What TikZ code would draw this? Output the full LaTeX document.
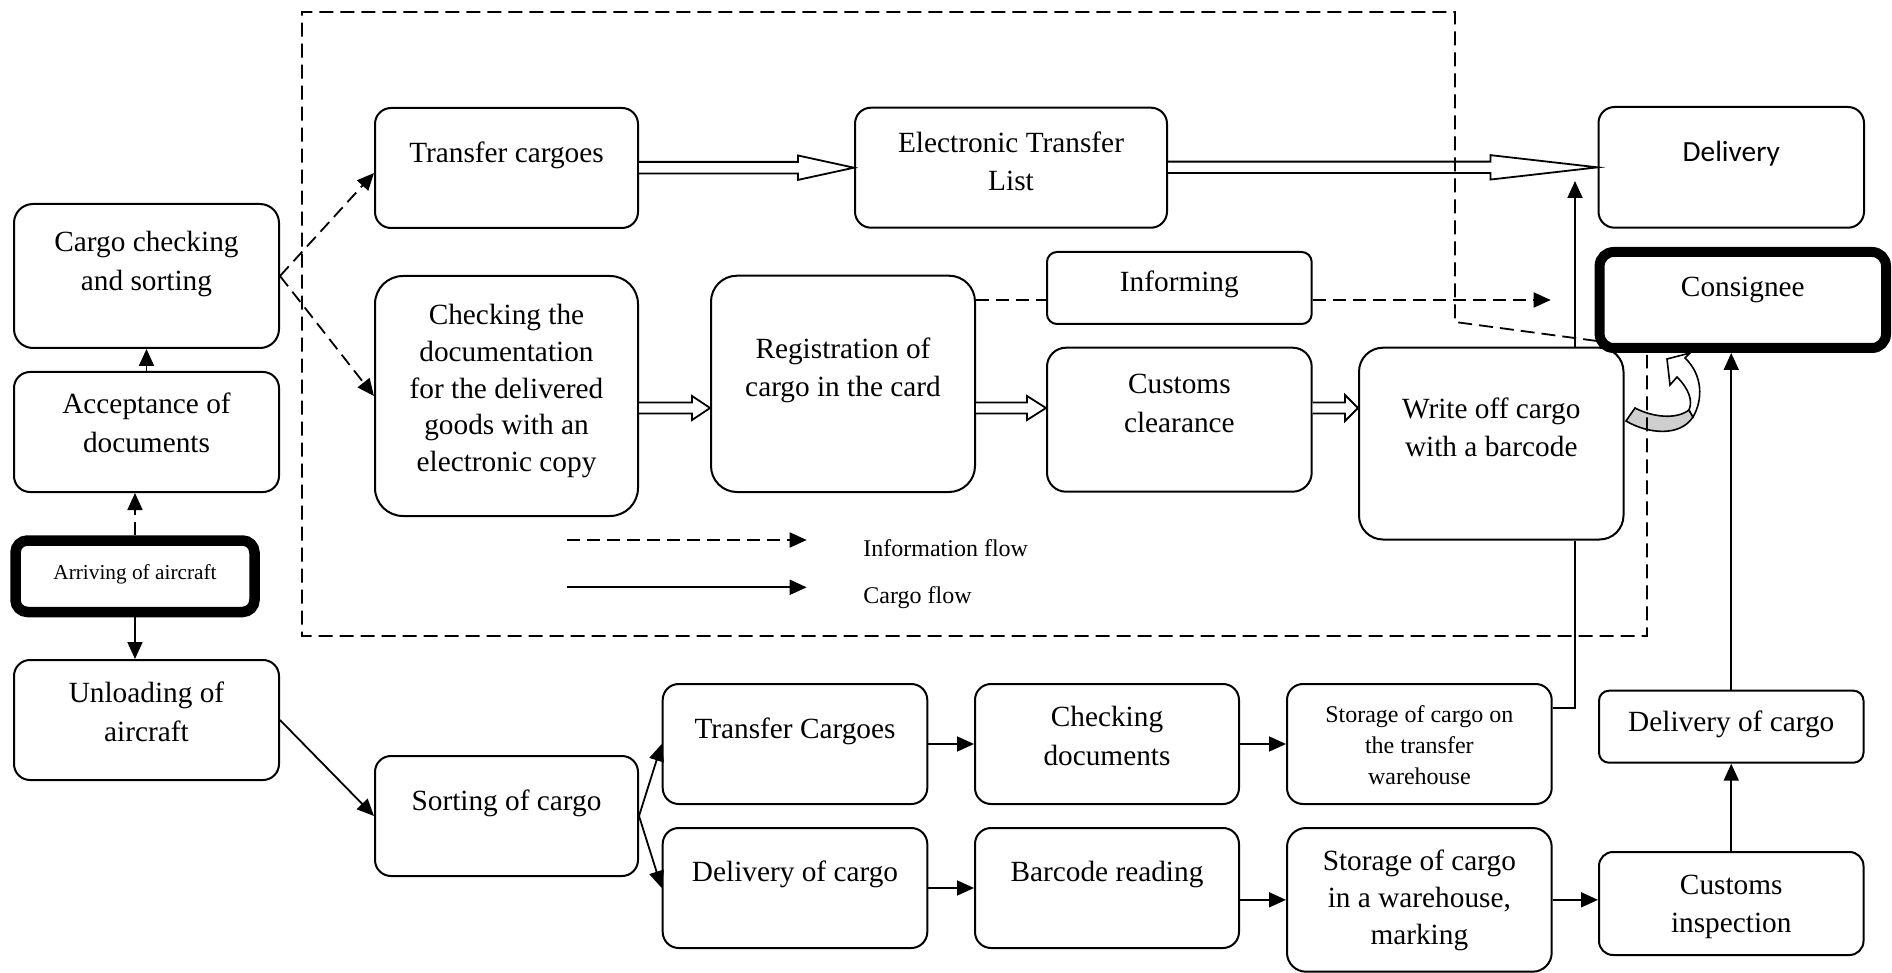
\documentclass[tikz,border=0pt]{standalone}
\usepackage{fontspec}
\setmainfont{Liberation Serif}
\newfontfamily\calfont{Carlito}
\usetikzlibrary{arrows.meta,calc}
% [font size]{width}{height}{first baseline}{line skip}{text}
\newcommand\bx[6][14.65pt]{\parbox[c][#3][t]{#2}{\centering\fontsize{#1}{#5}\selectfont\rule{0pt}{#4}#6}}
\newcommand\hollowarrow[5]{% from, to, head length, tail half, head half
  \draw[hollowst] let \p1=#1, \p2=#2 in
    (\x1,\y2+#4) -- (\x2-#3,\y2+#4) -- (\x2-#3,\y2+#5) -- (\x2,\y2)
    -- (\x2-#3,\y2-#5) -- (\x2-#3,\y2-#4) -- (\x1,\y2-#4);}
\begin{document}
\begin{tikzpicture}[x=0.5pt,y=-0.5pt,
  box/.style={draw, line width=1pt, inner sep=0pt, rounded corners=#1},
  box/.default=8pt,
  thickbox/.style={draw, line width=5.25pt, inner sep=0pt, rounded corners=#1},
  cline/.style={line width=0.9pt},
  cflow/.style={cline, -{Triangle[length=8.5pt,width=7.5pt]}},
  iflow/.style={cflow, dash pattern=on 6.5pt off 3.5pt},
  iline/.style={cline, dash pattern=on 6.5pt off 3.5pt},
  hollowst/.style={line width=0.9pt, fill=white},
  bound/.style={line width=0.9pt, dash pattern=on 7pt off 3.5pt},
  legend/.style={inner sep=0pt, anchor=base west, font=\fontsize{12pt}{14pt}\selectfont}]
\useasboundingbox (0,0) rectangle (1892,973);
\fill[white] (0,0) rectangle (1892,973);

% ---- left column
\node[box=9.5pt] (cc) at (146.5,276) {\bx{132.5pt}{72pt}{24pt}{19.25pt}{Cargo checking\\and sorting}};
\node[box] (acc) at (146.5,432) {\bx{132.5pt}{60pt}{21pt}{19.5pt}{Acceptance of\\documents}};
\node[thickbox=6pt] (arr) at (135,576.25) {\bx[10.65pt]{119.5pt}{35.75pt}{19.25pt}{13pt}{Arriving of aircraft}};
\node[box] (unl) at (146.5,720) {\bx{132.5pt}{60pt}{21pt}{19.5pt}{Unloading of\\aircraft}};

% ---- upper part
\node[box] (tcu) at (506.5,168) {\bx{131.5pt}{60pt}{27.5pt}{19pt}{Transfer cargoes}};
\node[box=14pt] (cd) at (506.5,396) {\bx{131.5pt}{120pt}{24pt}{18.5pt}{Checking the\\documentation\\for the delivered\\goods with an\\electronic copy}};
\node[box] (etl) at (1011,167.7) {\bx{156pt}{60pt}{22.25pt}{19.15pt}{Electronic Transfer\\List}};
\node[box=13pt] (reg) at (843,383.85) {\bx{132pt}{108.15pt}{41.3pt}{19.2pt}{Registration of\\cargo in the card}};
\node[box=5pt] (inf) at (1179.35,288) {\bx{132.35pt}{36pt}{19.85pt}{19pt}{Informing}};
\node[box=9.5pt] (cus) at (1179.35,419.7) {\bx{132.35pt}{72pt}{23.15pt}{19.35pt}{Customs\\clearance}};
\node[box=12pt] (wo) at (1491.25,443.6) {\bx{132.25pt}{95.9pt}{35.3pt}{19.2pt}{Write off cargo\\with a barcode}};
\node[box] (del) at (1731.25,167.35) {\bx{132.75pt}{60.35pt}{27.35pt}{19pt}{\calfont Delivery}};
\node[thickbox=7pt, line width=5pt] (con) at (1742.8,300) {\bx{143.2pt}{48pt}{22.35pt}{19pt}{Consignee}};

% ---- lower part
\node[box] (srt) at (506.5,816) {\bx{131.5pt}{60pt}{27pt}{19pt}{Sorting of cargo}};
\node[box] (tcb) at (795,744) {\bx{132.3pt}{60pt}{27.15pt}{19pt}{Transfer Cargoes}};
\node[box] (doc) at (795,888) {\bx{132.3pt}{60pt}{26.85pt}{19pt}{Delivery of cargo}};
\node[box] (chd) at (1107,744) {\bx{132pt}{60pt}{21.35pt}{19.15pt}{Checking\\documents}};
\node[box] (bar) at (1107,888) {\bx{132pt}{60pt}{26.85pt}{19pt}{Barcode reading}};
\node[box] (stt) at (1419.35,744) {\bx[12pt]{132.35pt}{60pt}{19.35pt}{15.5pt}{Storage of cargo on\\the transfer\\warehouse}};
\node[box=9.5pt] (stw) at (1419.35,899.85) {\bx{132.35pt}{71.85pt}{21pt}{18.5pt}{Storage of cargo\\in a warehouse,\\marking}};
\node[box=5pt] (dcr) at (1731.25,726.7) {\bx{132.25pt}{36pt}{20.5pt}{19pt}{Delivery of cargo}};
\node[box=7pt] (ci) at (1731.25,903.5) {\bx{132.25pt}{51.5pt}{21pt}{19pt}{Customs\\inspection}};

% ---- helper coordinates
\coordinate (hrow) at (0,408);
\coordinate (yinf) at (0,300);
\coordinate (upx) at (1575,181);
\coordinate (infend) at (1550.7,300);

% ---- connectors, left
\draw[iflow] (arr.north) -- (arr.north |- acc.south);
\draw[cflow] (arr.south) -- (arr.south |- unl.north);
\draw[cflow] (acc.north) -- (cc.south);
\draw[iflow] (cc.east) -- ($(tcu.west)+(0,5)$);
\draw[iflow] (cc.east) -- (cd.west);
\draw[cflow] (unl.east) -- (srt.west);

% ---- connectors, lower
\draw[cflow] (srt.east) -- (tcb.west);
\draw[cflow] (srt.east) -- (doc.west);
\draw[cflow] (tcb.east) -- (chd.west);
\draw[cflow] (doc.east) -- (bar.west);
\draw[cflow] (chd.east) -- (stt.west);
\draw[cflow] (bar.east |- stw.west) -- (stw.west);
\draw[cflow] (stw.east) -- (ci.west |- stw.east);
\draw[cflow] (ci.north) -- (dcr.south);
\draw[cflow] (dcr.north) -- (dcr.north |- con.south);
\draw[cline] ($(stt.east)+(0,-36)$) -| (wo.south -| upx);
\draw[cflow] (wo.north -| upx) -- (upx);

% ---- informing
\draw[iline] (reg.east |- yinf) -- (inf.west |- yinf);
\draw[iflow] (inf.east |- yinf) -- (infend);

% ---- hollow arrows
\hollowarrow{(tcu.east)}{(etl.west)}{28pt}{2.9pt}{6.1pt}
\hollowarrow{(etl.east)}{(del.west)}{53.5pt}{2.85pt}{6.1pt}
\hollowarrow{(cd.east |- hrow)}{(reg.west |- hrow)}{9pt}{2.75pt}{6pt}
\hollowarrow{(reg.east |- hrow)}{(cus.west |- hrow)}{9.5pt}{2.75pt}{6pt}
\hollowarrow{(cus.east |- hrow)}{(wo.west |- hrow)}{6.5pt}{2.75pt}{6.5pt}

% ---- curved arrow from write-off to consignee
\filldraw[line width=0.8pt, fill=black!19] (1626,421) -- (1635,408)
  .. controls (1652,417) and (1676,420) .. (1689,410) -- (1693,417)
  .. controls (1680,437) and (1648,434) .. cycle;
\filldraw[line width=0.8pt, fill=white] (1693,417)
  .. controls (1703,400) and (1703,375) .. (1685,358) -- (1690,353)
  -- (1667,359) -- (1670,385) -- (1677,377)
  .. controls (1689,389) and (1693,401) .. (1689,410) -- cycle;

% ---- dashed boundary
\draw[bound] (1597,341) -- (1455,322) -- (1455,12) -- (302,12) -- (302,636)
  -- (1647,636) -- (1647,355);

% ---- legend
\coordinate (l1a) at (566.7,540);
\coordinate (l1b) at (806.7,540);
\coordinate (l2a) at (566.7,587.3);
\coordinate (l2b) at (806.7,587.3);
\draw[iflow] (l1a) -- (l1b);
\draw[cflow] (l2a) -- (l2b);
\node[legend] (li) at (863,556.7) {Information flow};
\node[legend] (lc) at (863,603.3) {Cargo flow};
\end{tikzpicture}
\end{document}
